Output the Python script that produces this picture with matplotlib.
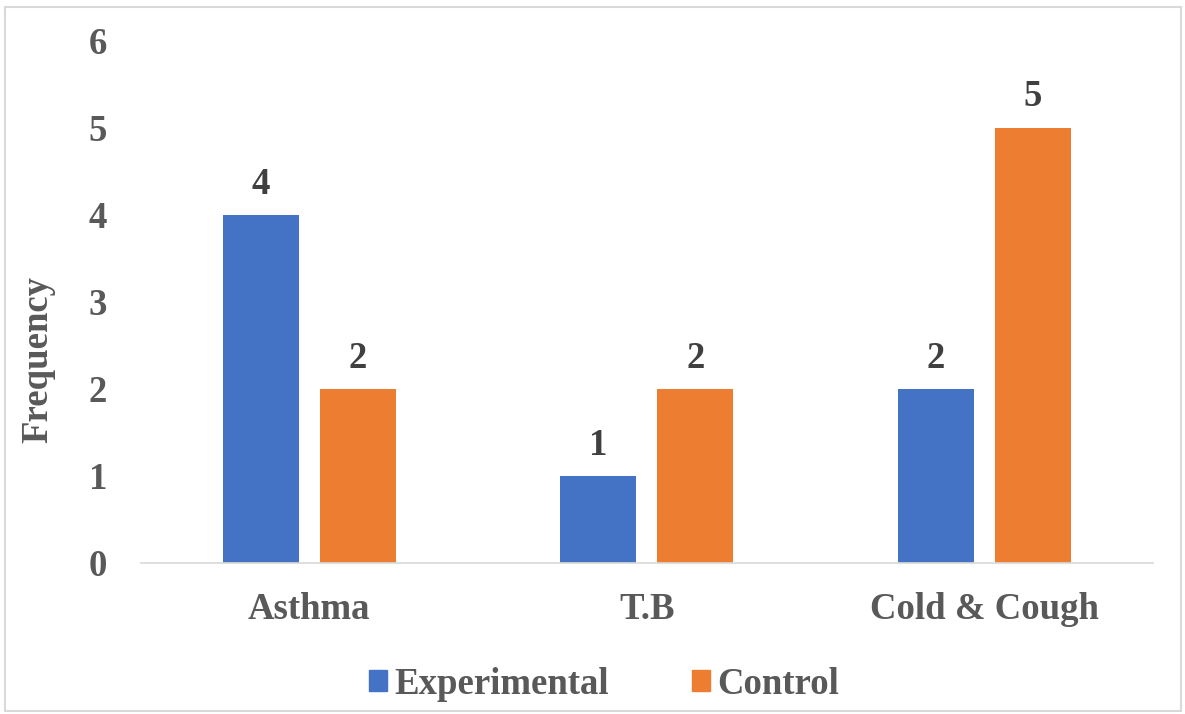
import matplotlib
matplotlib.use("Agg")
import matplotlib.pyplot as plt
from matplotlib.patches import Rectangle, Patch
import numpy as np

categories = ["Asthma", "T.B", "Cold & Cough"]
experimental = [4, 1, 2]
control = [2, 2, 5]
series_names = ["Experimental", "Control"]
yticks = [0, 1, 2, 3, 4, 5, 6]

plt.rcParams['font.family'] = ['Liberation Serif', 'DejaVu Serif']
plt.rcParams['font.weight'] = 'bold'

W, H = 1185, 714
fig = plt.figure(figsize=(W / 100, H / 100), dpi=100)
fig.patch.set_facecolor('white')
fig.patches.append(Rectangle((5 / W, 3 / H), 1176 / W, 704 / H, transform=fig.transFigure,
                             fill=False, edgecolor='#D9D9D9', linewidth=1.5))

ax = fig.add_axes([140.5 / W, (714 - 563) / H, 1012.5 / W, 522.4 / H])
x = np.arange(len(categories))
bw = 0.225
off = 0.1437
blue, orange = '#4472C4', '#ED7D31'
b1 = ax.bar(x - off, experimental, bw, color=blue, zorder=2)
b2 = ax.bar(x + off, control, bw, color=orange, zorder=2)

fs = 26.5
for bars, vals in ((b1, experimental), (b2, control)):
    for r, v in zip(bars, vals):
        ax.annotate(str(v), (r.get_x() + r.get_width() / 2, v), xytext=(0, 9.5),
                    textcoords='offset points', ha='center', va='bottom',
                    fontsize=fs, fontweight='bold', color='#404040')

ax.set_xlim(-0.5, 2.5)
ax.set_ylim(0, 6)
ax.set_yticks(yticks)
ax.set_yticklabels([str(t) for t in yticks])
ax.set_xticks(x)
ax.set_xticklabels(categories)
for s in ['top', 'right', 'left']:
    ax.spines[s].set_visible(False)
ax.spines['bottom'].set_color('#D9D9D9')
ax.spines['bottom'].set_linewidth(1.2)
ax.tick_params(axis='both', length=0, labelsize=fs, labelcolor='#595959')
ax.tick_params(axis='y', pad=24)
ax.tick_params(axis='x', pad=21)
for lab in ax.get_xticklabels() + ax.get_yticklabels():
    lab.set_fontweight('bold')
ax.set_ylabel('Frequency', fontsize=fs, fontweight='bold', color='#595959', labelpad=24)
ax.yaxis.label.set_y(0.39)

handles = [Patch(color=blue), Patch(color=orange)]
leg = fig.legend(handles, series_names, loc='center', bbox_to_anchor=(604 / W, 1 - 684 / H),
                 ncol=2, frameon=False, handlelength=0.5, handleheight=0.5,
                 handletextpad=0.2, columnspacing=2.25,
                 prop={'size': fs, 'weight': 'bold'})
for t in leg.get_texts():
    t.set_color('#595959')

fig.savefig('out.png', dpi=100, facecolor='white')
